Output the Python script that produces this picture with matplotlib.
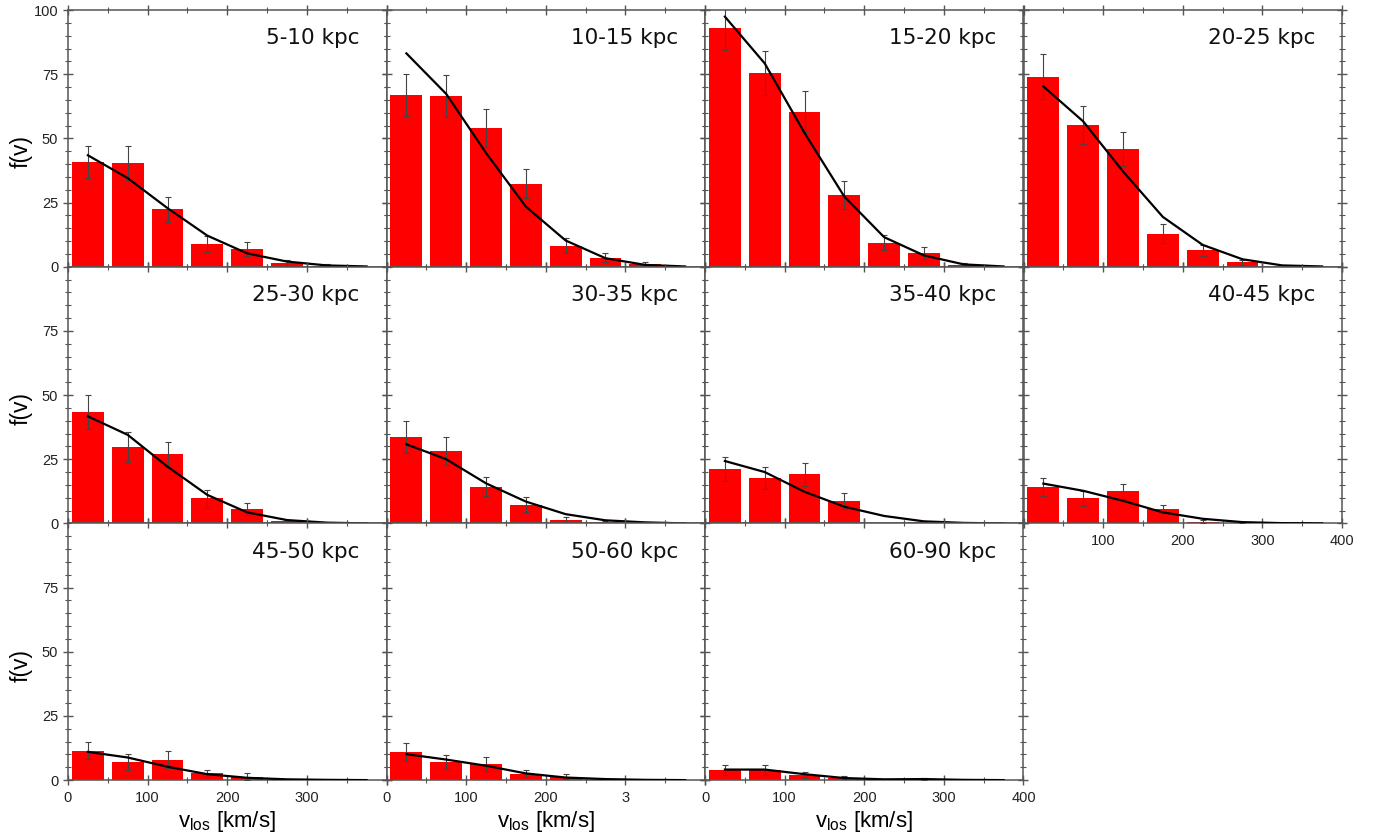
import numpy as np
import matplotlib.pyplot as plt
from matplotlib.ticker import MultipleLocator

# bin centres (km/s)
v_bins = [25, 75, 125, 175, 225, 275, 325, 375]

panel_names = ['5-10 kpc', '10-15 kpc', '15-20 kpc', '20-25 kpc',
               '25-30 kpc', '30-35 kpc', '35-40 kpc', '40-45 kpc',
               '45-50 kpc', '50-60 kpc', '60-90 kpc']

# observed histograms
f_obs = [
    [40.8, 40.4, 22.4, 8.9, 6.9, 1.3, 0.4, 0.0],
    [66.9, 66.4, 54.0, 32.4, 8.2, 3.5, 0.9, 0.0],
    [92.8, 75.5, 60.4, 27.9, 9.4, 5.3, 0.8, 0.0],
    [74.0, 55.3, 45.8, 12.8, 6.4, 1.8, 0.0, 0.0],
    [43.4, 29.8, 26.9, 9.8, 5.5, 0.9, 0.0, 0.0],
    [33.7, 28.3, 14.3, 7.3, 1.3, 0.5, 0.0, 0.0],
    [21.3, 17.8, 19.2, 8.8, 0.0, 0.5, 0.0, 0.0],
    [14.3, 9.8, 12.5, 5.5, 0.7, 0.3, 0.0, 0.0],
    [11.5, 7.0, 8.0, 2.6, 1.4, 0.0, 0.0, 0.0],
    [10.9, 7.0, 6.4, 2.5, 1.4, 0.0, 0.0, 0.0],
    [3.9, 3.9, 1.9, 1.0, 0.0, 0.5, 0.0, 0.0],
]

# error bars
f_err = [
    [6.4, 6.5, 4.9, 3.0, 2.6, 1.2, 0.5, 0.0],
    [8.2, 8.2, 7.3, 5.7, 3.0, 1.8, 0.9, 0.0],
    [8.2, 8.7, 8.0, 5.4, 3.0, 2.3, 0.7, 0.0],
    [8.7, 7.4, 6.7, 3.7, 2.1, 1.0, 0.0, 0.0],
    [6.7, 5.7, 5.0, 3.3, 2.3, 0.6, 0.0, 0.0],
    [6.1, 5.4, 3.8, 2.9, 1.0, 0.5, 0.0, 0.0],
    [4.7, 4.3, 4.5, 3.1, 0.0, 0.5, 0.0, 0.0],
    [3.5, 3.0, 2.9, 1.6, 0.6, 0.3, 0.0, 0.0],
    [3.4, 3.0, 3.2, 1.2, 1.2, 0.0, 0.0, 0.0],
    [3.4, 2.8, 2.7, 1.4, 1.1, 0.0, 0.0, 0.0],
    [2.0, 2.0, 1.2, 0.6, 0.0, 0.5, 0.0, 0.0],
]

# model curves
f_model = [
    [43.4, 34.5, 22.8, 12.1, 5.2, 2.0, 0.5, 0.1],
    [83.1, 67.3, 44.3, 23.4, 10.2, 3.3, 0.7, 0.1],
    [97.4, 79.2, 52.1, 27.3, 11.5, 4.4, 0.9, 0.1],
    [70.2, 56.6, 37.1, 19.4, 8.5, 2.9, 0.5, 0.1],
    [41.7, 34.5, 22.1, 11.1, 4.3, 1.3, 0.3, 0.0],
    [30.8, 25.0, 15.6, 8.5, 3.6, 1.2, 0.4, 0.0],
    [24.3, 20.0, 12.3, 6.5, 2.9, 0.8, 0.2, 0.0],
    [15.5, 12.7, 8.8, 4.3, 1.8, 0.5, 0.1, 0.0],
    [11.0, 8.8, 5.2, 2.3, 0.9, 0.3, 0.1, 0.0],
    [10.1, 8.0, 5.6, 2.6, 1.0, 0.4, 0.1, 0.0],
    [4.1, 4.1, 2.3, 0.8, 0.3, 0.4, 0.1, 0.0],
]

y_ticks_top = [0, 25, 50, 75, 100]
y_ticks_low = [0, 25, 50, 75]
x_tick_labels = {
    7: ['', '100', '200', '300', '400'],
    8: ['0', '100', '200', '300', ''],
    9: ['0', '100', '200', '3', ''],
    10: ['0', '100', '200', '300', '400'],
}

plt.rcParams['font.family'] = ['Liberation Sans', 'DejaVu Sans']

fig = plt.figure(figsize=(13.79, 8.39), dpi=100)
W, H = 1379.0, 839.0
left, top = 68.0, 10.0
pw, ph = 318.5, 256.7
frame = '#555555'

for i, name in enumerate(panel_names):
    row, col = divmod(i, 4)
    ax = fig.add_axes([(left + col * pw) / W, 1 - (top + (row + 1) * ph) / H, pw / W, ph / H])

    ax.bar(v_bins, f_obs[i], width=40, color='#ff0000', edgecolor='none', zorder=2)
    err = np.array(f_err[i])
    m = err > 0
    ax.errorbar(np.array(v_bins)[m], np.array(f_obs[i])[m], yerr=err[m], fmt='none',
                ecolor='#444444', elinewidth=0.8, capsize=2.5, capthick=0.8, zorder=3)
    ax.plot(v_bins, f_model[i], color='black', lw=1.6, zorder=4)

    ax.set_xlim(0, 400)
    ax.xaxis.set_major_locator(MultipleLocator(100))
    ax.xaxis.set_minor_locator(MultipleLocator(50))
    ax.yaxis.set_major_locator(MultipleLocator(25))
    ax.yaxis.set_minor_locator(MultipleLocator(5))
    ax.tick_params(which='both', direction='inout', top=True, right=True, colors=frame,
                   labelcolor='#222222', labelsize=10.5)
    ax.tick_params(which='major', length=7, width=1)
    ax.tick_params(which='minor', length=4, width=0.8)
    for s in ax.spines.values():
        s.set_color(frame)
        s.set_linewidth(1.1)

    ax.text(0.915, 0.89, name, transform=ax.transAxes, ha='right', va='center',
            fontsize=15.5, family='DejaVu Sans', color='#111111')

    if col == 0:
        ax.set_yticks(y_ticks_top if row == 0 else y_ticks_low)
        fig.text(21 / W, 1 - (top + row * ph + 142) / H, 'f(v)', rotation=90,
                 ha='center', va='center', fontsize=16.5)
    else:
        ax.set_yticklabels([])

    if i in x_tick_labels:
        ax.set_xticks([0, 100, 200, 300, 400])
        ax.set_xticklabels(x_tick_labels[i])
        ax.tick_params(axis='x', pad=4)
    else:
        ax.set_xticklabels([])
    if row == 2:
        fig.text((left + col * pw + pw / 2) / W, 1 - 821 / H,
                 r'$\mathregular{v_{los}}$ [km/s]', ha='center', va='center', fontsize=16)
    ax.set_ylim(0, 100)

fig.savefig('out.png', dpi=100)
